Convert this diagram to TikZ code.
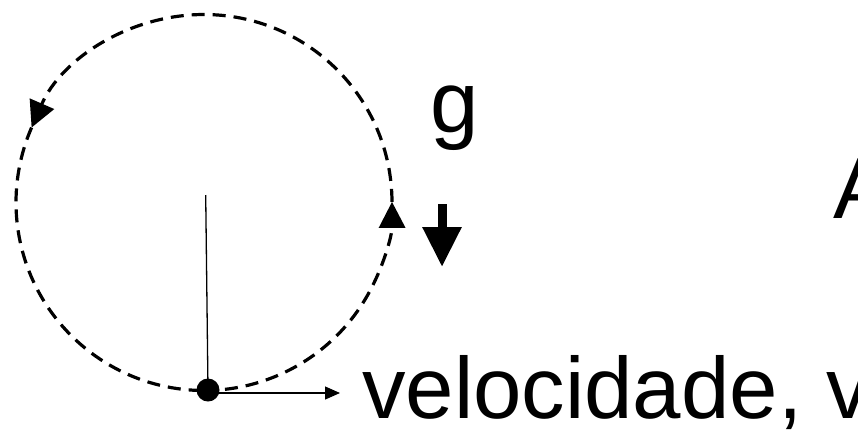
\documentclass[tikz,border=0pt]{standalone}
\usepackage{fontspec}
\setmainfont{Liberation Sans}
\usetikzlibrary{arrows.meta}
\begin{document}
\begin{tikzpicture}[x=1pt,y=1pt,
  dashline/.style={line width=3.2pt,dash pattern=on 13pt off 8pt},
  bigtext/.style={inner sep=0pt,anchor=base west,font=\fontsize{87}{95}\selectfont},
  cirtip/.style={-{Triangle[length=26pt,width=26pt]}}]
\useasboundingbox (0,0) rectangle (858,-429);
\fill[white] (0,0) rectangle (858,-429);
\clip (0,0) rectangle (858,-429);
\coordinate (c) at (204,-202.5);
% dashed circular path with direction arrows
\draw[dashline,cirtip] ([shift={(-90:188)}]c) arc[start angle=-90,end angle=0.2,radius=188];
\draw[dashline,cirtip] ([shift={(0.2:188)}]c) arc[start angle=0.2,end angle=156.5,radius=188];
\draw[dashline] ([shift={(156.5:188)}]c) arc[start angle=156.5,end angle=270,radius=188];
% string and body
\coordinate (top) at (205.7,-195);
\node[circle,fill=black,inner sep=0pt,minimum size=23pt] (ball) at (208,-390) {};
\draw[line width=1.3pt] (top) -- (ball.center);
\coordinate (vend) at (340,-393);
\draw[line width=1.3pt,-{Triangle[length=15pt,width=13pt]}] (208,-393) -- (vend);
% gravity arrow
\coordinate (gs) at (442,-204);
\coordinate (ge) at (442,-267);
\draw[line width=9pt,-{Triangle[length=40pt,width=37pt]}] (gs) -- (ge);
% labels
\node[bigtext] (g) at (430,-132) {g};
\node[bigtext] (A) at (833,-218) {A};
\node[bigtext] (vel) at (362,-418) {velocidade, v};
\end{tikzpicture}
\end{document}
